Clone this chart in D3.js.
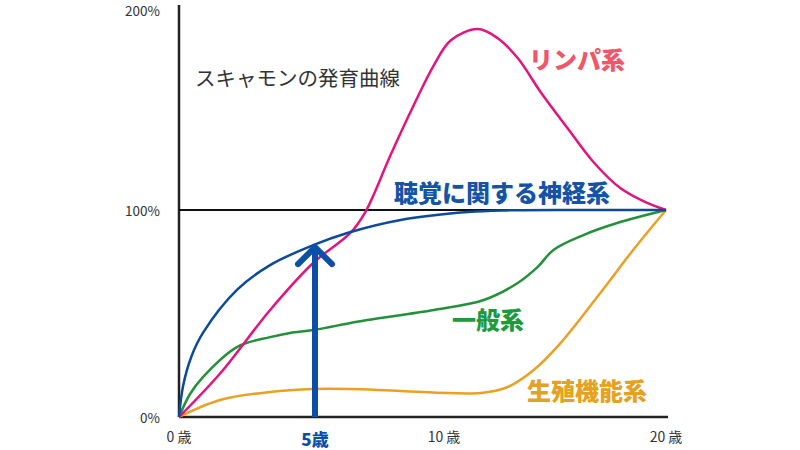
<!DOCTYPE html>
<html>
<head>
<meta charset="utf-8">
<script src="https://cdn.jsdelivr.net/npm/d3@7"></script>
<style>
  body { margin: 0; background: #fff; }
  text { font-family: "Noto Sans CJK JP", "Noto Sans", sans-serif; }
</style>
</head>
<body>
<svg id="chart" width="800" height="450"></svg>
<script>
// ages (years) and growth (% of 20-year value)
const lymphAge = [0, 1.51, 3.35, 4.93, 6.37, 6.95, 7.93, 8.83, 9.61, 10.31, 11.52, 12.42, 13.32, 14.35, 15.56, 16.73, 17.94, 19.15, 20];
const lymphVal = [0, 21, 51.7, 74.4, 88.9, 99, 126.6, 150.7, 170, 182, 187.4, 183, 173.4, 157, 139.6, 123.2, 110.6, 103.4, 100];

const neuralAge = [0, 0.15, 0.45, 0.88, 2.13, 3.35, 4.93, 6.25, 8.32, 11.08, 12.8, 16, 20];
const neuralVal = [0, 15, 29, 40.6, 61.4, 73.4, 83, 88.9, 95.2, 99, 99.8, 100, 100];

const generalAge = [0, 0.4, 0.88, 2.13, 3.35, 4.08, 4.93, 6.37, 7.03, 9.61, 11.79, 13.32, 14.22, 14.93, 16.28, 17.8, 20];
const generalVal = [0, 11, 19.3, 33.8, 38.6, 40.6, 42, 45.4, 46.9, 51.7, 56.5, 64.7, 72.5, 80.7, 87.9, 93.7, 100];

const reproAge = [0, 1.51, 3.35, 4.93, 6.37, 8.32, 11.66, 12.87, 14.04, 15.25, 17.04, 18.52, 20];
const reproVal = [0, 8.2, 12.1, 13.5, 13.5, 12.6, 11.6, 14.5, 22.7, 35.7, 59.9, 80.7, 100];

const xTicks = [0, 10, 20];
const xTickLabels = ["0 歳", "10 歳", "20 歳"];
const yTicks = [0, 100, 200];
const yTickLabels = ["0%", "100%", "200%"];

const arrowAge = 5;
const arrowTop = 83;
const arrowLabel = "5歳";
const title = "スキャモンの発育曲線";

const svg = d3.select('#chart');

// the drawing stretches the first decade a little, so a piecewise scale
const x = d3.scaleLinear().domain([0, 5, 10, 20]).range([179, 315, 444, 666]);
const y = d3.scaleLinear().domain([0, 200]).range([417, 3]);

const line = d3.line()
  .x((d) => x(d[0]))
  .y((d) => y(d[1]))
  .curve(d3.curveCatmullRom.alpha(0.5));

const zip = (a, b) => a.map((v, i) => [v, b[i]]);

// axes
svg.append('line')
  .attr('x1', x(0)).attr('x2', x(0))
  .attr('y1', y(200) + 2).attr('y2', y(0))
  .attr('stroke', '#222').attr('stroke-width', 2.5);

svg.append('line')
  .attr('x1', x(0)).attr('x2', x(20) + 2)
  .attr('y1', y(0)).attr('y2', y(0))
  .attr('stroke', '#222').attr('stroke-width', 2.5);

svg.append('line')
  .attr('x1', x(0)).attr('x2', x(20))
  .attr('y1', y(100)).attr('y2', y(100))
  .attr('stroke', '#111').attr('stroke-width', 2);

svg.selectAll('.ytick')
  .data(yTicks)
  .enter()
  .append('text')
  .attr('class', 'ytick')
  .attr('x', 160)
  .attr('y', (d) => Math.max(y(d) + 2, 12))
  .attr('text-anchor', 'end')
  .attr('dominant-baseline', 'middle')
  .attr('font-size', 13.5)
  .attr('fill', '#333')
  .text((d, i) => yTickLabels[i]);

svg.selectAll('.xtick')
  .data(xTicks)
  .enter()
  .append('text')
  .attr('class', 'xtick')
  .attr('x', (d) => x(d))
  .attr('y', 442)
  .attr('text-anchor', 'middle')
  .attr('font-size', 14)
  .attr('fill', '#333')
  .text((d, i) => xTickLabels[i]);

// curves
const series = [
  { age: reproAge, val: reproVal, color: '#eba023' },
  { age: generalAge, val: generalVal, color: '#22913a' },
  { age: lymphAge, val: lymphVal, color: '#e0157f' },
  { age: neuralAge, val: neuralVal, color: '#0c4a9a' },
];

svg.selectAll('.curve')
  .data(series)
  .enter()
  .append('path')
  .attr('class', 'curve')
  .attr('d', (d) => line(zip(d.age, d.val)))
  .attr('fill', 'none')
  .attr('stroke', (d) => d.color)
  .attr('stroke-width', 2.5);

// arrow at 5 years
const ax = x(arrowAge);
const ay = y(arrowTop);
svg.append('line')
  .attr('x1', ax).attr('x2', ax)
  .attr('y1', y(0)).attr('y2', ay + 2)
  .attr('stroke', '#0b4fa8').attr('stroke-width', 6);

svg.append('path')
  .attr('d', `M${ax - 17},${ay + 19}L${ax},${ay + 2}L${ax + 17},${ay + 19}`)
  .attr('fill', 'none')
  .attr('stroke', '#0b4fa8')
  .attr('stroke-width', 6)
  .attr('stroke-linecap', 'round')
  .attr('stroke-linejoin', 'round');

svg.append('text')
  .attr('x', ax).attr('y', 446)
  .attr('text-anchor', 'middle')
  .attr('font-size', 17)
  .attr('font-weight', 900)
  .attr('fill', '#0b4fa8')
  .text(arrowLabel);

// labels
svg.append('text')
  .attr('x', 195).attr('y', 86)
  .attr('font-size', 20.5)
  .attr('fill', '#333')
  .text(title);

const labels = [
  { text: 'リンパ系', x: 529, y: 69, color: '#f0566a' },
  { text: '聴覚に関する神経系', x: 394, y: 202, color: '#1553a6' },
  { text: '一般系', x: 452, y: 329, color: '#1d9a3a' },
  { text: '生殖機能系', x: 527, y: 400, color: '#e5a121' },
];

svg.selectAll('.lbl')
  .data(labels)
  .enter()
  .append('text')
  .attr('class', 'lbl')
  .attr('x', (d) => d.x)
  .attr('y', (d) => d.y)
  .attr('font-size', 24)
  .attr('font-weight', 900)
  .attr('fill', (d) => d.color)
  .attr('stroke', '#fff')
  .attr('stroke-width', 3)
  .attr('paint-order', 'stroke')
  .text((d) => d.text);
</script>
</body>
</html>
